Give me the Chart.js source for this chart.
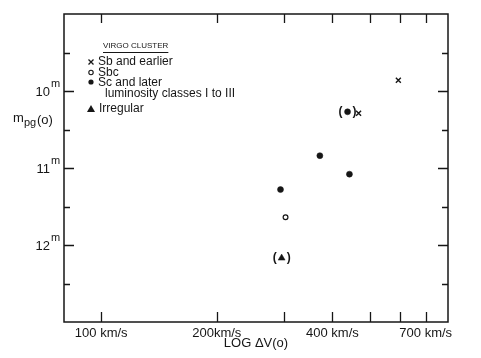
<!DOCTYPE html>
<html><head><meta charset="utf-8">
<script src="https://cdn.jsdelivr.net/npm/chart.js@4/dist/chart.umd.min.js"></script>
<style>html,body{margin:0;padding:0;background:#fff}#wrap{width:481px;height:358px}</style>
</head><body><div id="wrap"><canvas id="c"></canvas></div>
<script>
// ---- data ----
const xTickValues = [100, 200, 300, 400, 500, 600, 700];
const xTickLabels = {100: '100 km/s', 200: '200km/s', 400: '400 km/s', 700: '700 km/s'};
const yTickValues = [9.5, 10, 10.5, 11, 11.5, 12, 12.5];
const yLabelValues = [10, 11, 12];
const seriesNames = ['Sb and earlier', 'Sbc', 'Sc and later', 'Irregular'];
const sbEarlierV = [594, 468];
const sbEarlierM = [9.86, 10.29];
const sbcV = [302];
const sbcM = [11.64];
const scLaterV = [438, 371, 443, 293];
const scLaterM = [10.27, 10.84, 11.08, 11.28];
const scLaterParen = [true, false, false, false];
const irrV = [295];
const irrM = [12.17];
const irrParen = [true];

const pts = (xs, ys) => xs.map((v, i) => ({x: v, y: ys[i]}));
const ink = '#161616';
const FONT = '"Liberation Sans", Arial, sans-serif';

const decor = {
  id: 'decor',
  afterDraw(chart) {
    const ctx = chart.ctx, a = chart.chartArea;
    const xs = chart.scales.x, ys = chart.scales.y;
    ctx.save();
    ctx.strokeStyle = ink; ctx.fillStyle = ink;
    // frame
    ctx.lineWidth = 1.5;
    ctx.strokeRect(a.left, a.top, a.right - a.left, a.bottom - a.top);
    // x ticks (inward, bottom and top)
    ctx.lineWidth = 1.3;
    xTickValues.forEach(v => {
      const px = Math.round(xs.getPixelForValue(v)) + 0.5;
      ctx.beginPath();
      ctx.moveTo(px, a.bottom); ctx.lineTo(px, a.bottom - 10);
      ctx.moveTo(px, a.top); ctx.lineTo(px, a.top + 9);
      ctx.stroke();
    });
    // y ticks (inward, left and right)
    yTickValues.forEach(v => {
      const py = Math.round(ys.getPixelForValue(v)) + 0.5;
      const len = Number.isInteger(v) ? 10 : 6;
      ctx.beginPath();
      ctx.moveTo(a.left, py); ctx.lineTo(a.left + len, py);
      ctx.moveTo(a.right, py); ctx.lineTo(a.right - len, py);
      ctx.stroke();
    });
    // y labels with superscript m
    ctx.textBaseline = 'alphabetic';
    yLabelValues.forEach(v => {
      const py = ys.getPixelForValue(v);
      ctx.font = '13px ' + FONT;
      ctx.textAlign = 'right';
      ctx.fillText(String(v), 50, py + 5);
      ctx.font = '11px ' + FONT;
      ctx.textAlign = 'left';
      ctx.fillText('m', 51, py - 4);
    });
    // y axis title m_pg(o)
    ctx.textAlign = 'left';
    ctx.font = '13px ' + FONT;
    ctx.fillText('m', 13, 122);
    ctx.font = '11px ' + FONT;
    ctx.fillText('pg', 24, 126);
    ctx.font = '13px ' + FONT;
    ctx.fillText('(o)', 37, 124);
    // legend
    ctx.font = '8px ' + FONT;
    ctx.textBaseline = 'middle';
    const title = 'VIRGO CLUSTER';
    ctx.fillText(title, 103, 46);
    const tw = ctx.measureText(title).width;
    ctx.lineWidth = 1;
    ctx.beginPath(); ctx.moveTo(103, 52.5); ctx.lineTo(103 + tw, 52.5); ctx.stroke();
    ctx.font = '12px ' + FONT;
    const lx = 98, mx = 91;
    ctx.fillText(seriesNames[0], lx, 62);
    ctx.fillText(seriesNames[1], lx, 72.5);
    ctx.fillText(seriesNames[2], lx, 83);
    ctx.fillText('luminosity classes I to III', lx + 7, 94);
    ctx.fillText(seriesNames[3], lx + 1, 109);
    // legend markers
    ctx.lineWidth = 1.3;
    ctx.beginPath();
    ctx.moveTo(mx - 2.5, 59.5); ctx.lineTo(mx + 2.5, 64.5);
    ctx.moveTo(mx + 2.5, 59.5); ctx.lineTo(mx - 2.5, 64.5);
    ctx.stroke();
    ctx.lineWidth = 1.1;
    ctx.beginPath(); ctx.arc(mx, 72.5, 2.2, 0, Math.PI * 2); ctx.stroke();
    ctx.beginPath(); ctx.arc(mx, 82, 2.6, 0, Math.PI * 2); ctx.fill();
    ctx.beginPath(); ctx.moveTo(mx, 105); ctx.lineTo(mx + 4, 112); ctx.lineTo(mx - 4, 112); ctx.closePath(); ctx.fill();
    // parentheses around uncertain points
    ctx.font = 'bold 12px ' + FONT;
    ctx.textAlign = 'center';
    const paren = (dsIndex, flags) => {
      const meta = chart.getDatasetMeta(dsIndex);
      meta.data.forEach((el, i) => {
        if (!flags[i]) return;
        ctx.fillText('(', el.x - 7, el.y);
        ctx.fillText(')', el.x + 7, el.y);
      });
    };
    paren(2, scLaterParen);
    paren(3, irrParen);
    ctx.restore();
  }
};

new Chart(document.getElementById('c'), {
  type: 'scatter',
  data: {
    datasets: [
      {label: seriesNames[0], data: pts(sbEarlierV, sbEarlierM), pointStyle: 'crossRot', radius: 3.5, borderColor: ink, borderWidth: 1.4, backgroundColor: ink},
      {label: seriesNames[1], data: pts(sbcV, sbcM), pointStyle: 'circle', radius: 2.4, borderColor: ink, borderWidth: 1.2, backgroundColor: '#fff'},
      {label: seriesNames[2], data: pts(scLaterV, scLaterM), pointStyle: 'circle', radius: 3, borderColor: ink, borderWidth: 0.5, backgroundColor: ink},
      {label: seriesNames[3], data: pts(irrV, irrM), pointStyle: 'triangle', radius: 4, borderColor: ink, borderWidth: 0.5, backgroundColor: ink}
    ]
  },
  options: {
    responsive: true, maintainAspectRatio: false, animation: false,
    layout: {padding: {left: 0, right: 33, top: 14, bottom: 0}},
    plugins: {legend: {display: false}, tooltip: {enabled: false}},
    scales: {
      x: {
        type: 'logarithmic', min: 80, max: 800,
        afterBuildTicks: s => { s.ticks = xTickValues.map(v => ({value: v})); },
        afterFit: s => { s.height = 36; },
        grid: {display: false, drawTicks: false},
        border: {display: false},
        ticks: {autoSkip: false, maxRotation: 0, padding: 4, color: ink, font: {family: FONT, size: 13},
          callback: (v) => xTickLabels[v] || ''},
        title: {display: true, text: 'LOG ΔV(o)', color: ink, font: {family: FONT, size: 13}, padding: {top: 0, bottom: 7}}
      },
      y: {
        type: 'linear', reverse: true, min: 9, max: 13,
        afterFit: s => { s.width = 64; },
        grid: {display: false, drawTicks: false},
        border: {display: false},
        ticks: {display: false}
      }
    }
  },
  plugins: [decor]
});
</script></body></html>
